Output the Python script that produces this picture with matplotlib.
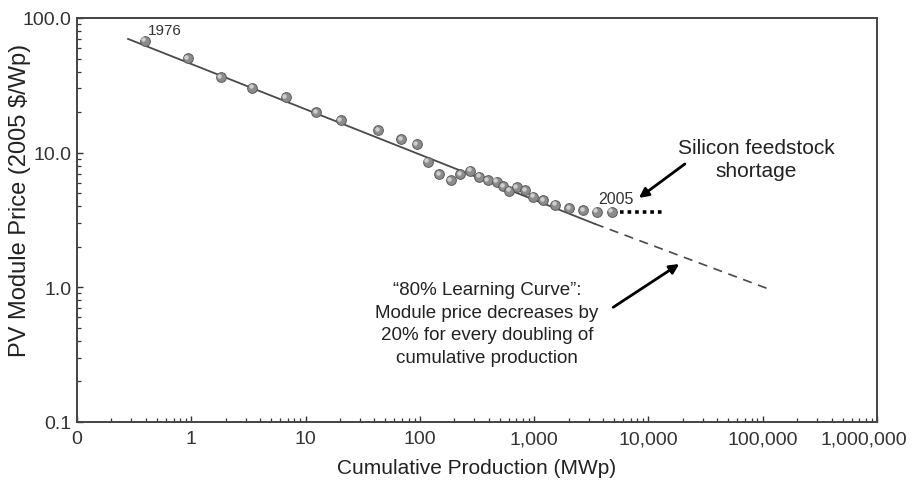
"""PV module price learning curve (1976-2005), log-log."""
import matplotlib

matplotlib.use("Agg")
import matplotlib.pyplot as plt
from matplotlib.ticker import FixedLocator, LogLocator, NullFormatter
from matplotlib.transforms import ScaledTranslation, offset_copy

plt.rcParams["font.family"] = ["Liberation Sans", "DejaVu Sans"]

# cumulative production (MWp) and module price (2005 $/Wp), 1976..2005
production = [0.39, 0.93, 1.81, 3.42, 6.7, 12.3, 20.3, 42.8, 68.4, 93.8,
              117, 148, 186, 224, 274, 329, 392, 469, 537, 606,
              703, 830, 982, 1202, 1522, 2018, 2692, 3524, 4766]
price = [67.9, 50.5, 36.6, 30.4, 25.8, 19.9, 17.5, 14.7, 12.6, 11.6,
         8.57, 6.95, 6.27, 6.95, 7.35, 6.64, 6.27, 6.09, 5.63, 5.22,
         5.53, 5.29, 4.71, 4.45, 4.11, 3.88, 3.76, 3.65, 3.65]

# 80% learning curve fit (solid) and its extrapolation (dashed)
fit_x = [0.28, 3400]
fit_y = [69.9, 2.96]
extrap_x = [3400, 121000]
extrap_y = [2.96, 0.95]

# silicon shortage plateau
plateau_x = [5600, 13500]
plateau_y = [3.65, 3.65]

x_ticks = [0.1, 1, 10, 100, 1e3, 1e4, 1e5, 1e6]
x_labels = ["0", "1", "10", "100", "1,000", "10,000", "100,000", "1,000,000"]
y_ticks = [0.1, 1, 10, 100]
y_labels = ["0.1", "1.0", "10.0", "100.0"]

fig = plt.figure(figsize=(9.14, 4.81), dpi=100)
ax = fig.add_axes([0.0842, 0.1206, 0.8753, 0.8399])
ax.set_xscale("log")
ax.set_yscale("log")
ax.set_xlim(0.1, 1e6)
ax.set_ylim(0.1, 100)

line_col = "#4a4a4a"
ax.plot(fit_x, fit_y, color=line_col, lw=1.3, zorder=2)
ax.plot(extrap_x, extrap_y, color=line_col, lw=1.2, dashes=(5.5, 4), zorder=2)
ax.plot(plateau_x, plateau_y, color="black", lw=2.6, linestyle=(0, (1, 1.1)),
        zorder=2)

# shaded balls: dark base plus a small light highlight
ax.plot(production, price, "o", ms=7, color="#8c8c8c", mec="#5a5a5a",
        mew=0.7, zorder=3)
hl = offset_copy(ax.transData, fig=fig, x=-1.2, y=1.2, units="dots")
ax.plot(production, price, "o", ms=3.2, color="#d6d6d6", mew=0, alpha=0.9,
        transform=hl, zorder=4)

ax.text(0.089, 0.970, "1976", transform=ax.transAxes, fontsize=11,
        color="#333333", ha="left", va="center")
ax.text(0.651, 0.552, "2005", transform=ax.transAxes, fontsize=11.5,
        color="#333333", ha="left", va="center")

ax.text(0.849, 0.651, "Silicon feedstock\nshortage", transform=ax.transAxes,
        fontsize=15, color="#222222", ha="center", va="center",
        linespacing=1.33)
ax.text(0.5125, 0.244,
        "\u201c80% Learning Curve\u201d:\nModule price decreases by\n"
        "20% for every doubling of\ncumulative production",
        transform=ax.transAxes, fontsize=13.5, color="#222222",
        ha="center", va="center", linespacing=1.44)

arrow = dict(arrowstyle="-|>", lw=2, color="black", mutation_scale=14,
             shrinkA=0, shrinkB=0)
ax.annotate("", xy=(8260, 4.61), xytext=(20840, 8.24), arrowprops=arrow)
ax.annotate("", xy=(18600, 1.49), xytext=(4920, 0.711), arrowprops=arrow)

ax.xaxis.set_major_locator(FixedLocator(x_ticks))
ax.set_xticklabels(x_labels)
ax.yaxis.set_major_locator(FixedLocator(y_ticks))
ax.set_yticklabels(y_labels)
ax.xaxis.set_minor_locator(LogLocator(base=10, subs=range(2, 10), numticks=20))
ax.yaxis.set_minor_locator(LogLocator(base=10, subs=range(2, 10), numticks=20))
ax.xaxis.set_minor_formatter(NullFormatter())
ax.yaxis.set_minor_formatter(NullFormatter())
ax.tick_params(which="major", direction="in", length=4, width=1,
               color="#333333", labelsize=14, labelcolor="#333333")
ax.tick_params(which="minor", direction="in", length=3, width=0.9,
               color="#333333")
ax.tick_params(axis="x", pad=6)
ax.tick_params(axis="y", pad=4)

# last x label is pulled left so it stays inside the figure
last = ax.get_xticklabels()[-1]
last.set_transform(last.get_transform()
                   + ScaledTranslation(-0.13, 0, fig.dpi_scale_trans))

for side, spine in ax.spines.items():
    spine.set_color("#444444")
    spine.set_linewidth(1.4)

ax.set_xlabel("Cumulative Production (MWp)", fontsize=15, color="#222222")
ax.set_ylabel("PV Module Price (2005 $/Wp)", fontsize=17, color="#222222")
ax.xaxis.set_label_coords(0.499, -0.09)
ax.yaxis.set_label_coords(-0.0575, 0.552)

fig.savefig("out.png", dpi=100)
